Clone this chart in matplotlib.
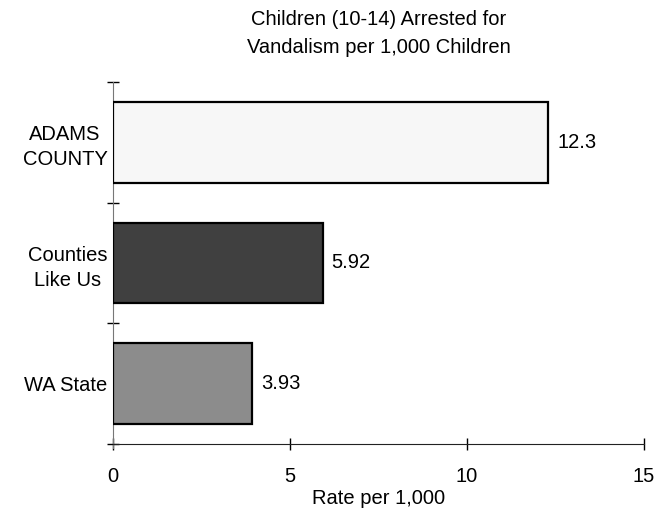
import matplotlib
matplotlib.use("Agg")
import matplotlib.pyplot as plt
import numpy as np

categories = ["ADAMS\nCOUNTY", "Counties\nLike Us", "WA State"]
values = [12.3, 5.92, 3.93]
value_labels = ["12.3", "5.92", "3.93"]
colors = ["#f7f7f7", "#404040", "#8c8c8c"]
x_ticks = [0, 5, 10, 15]

plt.rcParams['font.family'] = ['Liberation Sans', 'DejaVu Sans']
FS = 14.5

fig = plt.figure(figsize=(6.57, 5.12), dpi=100)
ax = fig.add_axes([113/657, 1-444/512, (644-113)/657, (444-82)/512])

y = np.arange(len(categories))
ax.barh(y, values, height=0.667, color=colors, edgecolor="black", linewidth=1.6, zorder=3)
for yi, v, lab in zip(y, values, value_labels):
    ax.text(v + 0.25, yi, lab, va="center", ha="left", fontsize=FS)

ax.set_ylim(2.5, -0.5)
ax.set_xlim(0, 15)
ax.set_xticks(x_ticks)
ax.set_xticklabels([str(t) for t in x_ticks], fontsize=FS)
ax.set_yticks(y)
ax.set_yticklabels(categories, fontsize=FS, multialignment="center", linespacing=1.4)
ax.set_yticks([-0.5, 0.5, 1.5, 2.5], minor=True)
ax.tick_params(axis="y", which="major", length=0, pad=4)
ax.tick_params(axis="y", which="minor", direction="inout", length=9, width=1, color="black")
ax.tick_params(axis="x", which="major", direction="inout", length=9, width=1, color="black", pad=12)

for s in ["top", "right"]:
    ax.spines[s].set_visible(False)
ax.spines["left"].set_color("#777777")
ax.spines["left"].set_bounds(2.53, -0.5)
ax.spines["bottom"].set_color("#222222")

ax.set_xlabel("Rate per 1,000", fontsize=FS, labelpad=2)
fig.text((113+644)/2/657, 1-33.5/512, "Children (10-14) Arrested for\nVandalism per 1,000 Children",
         ha="center", va="center", fontsize=FS, linespacing=1.55)

fig.savefig("out.png", dpi=100)
